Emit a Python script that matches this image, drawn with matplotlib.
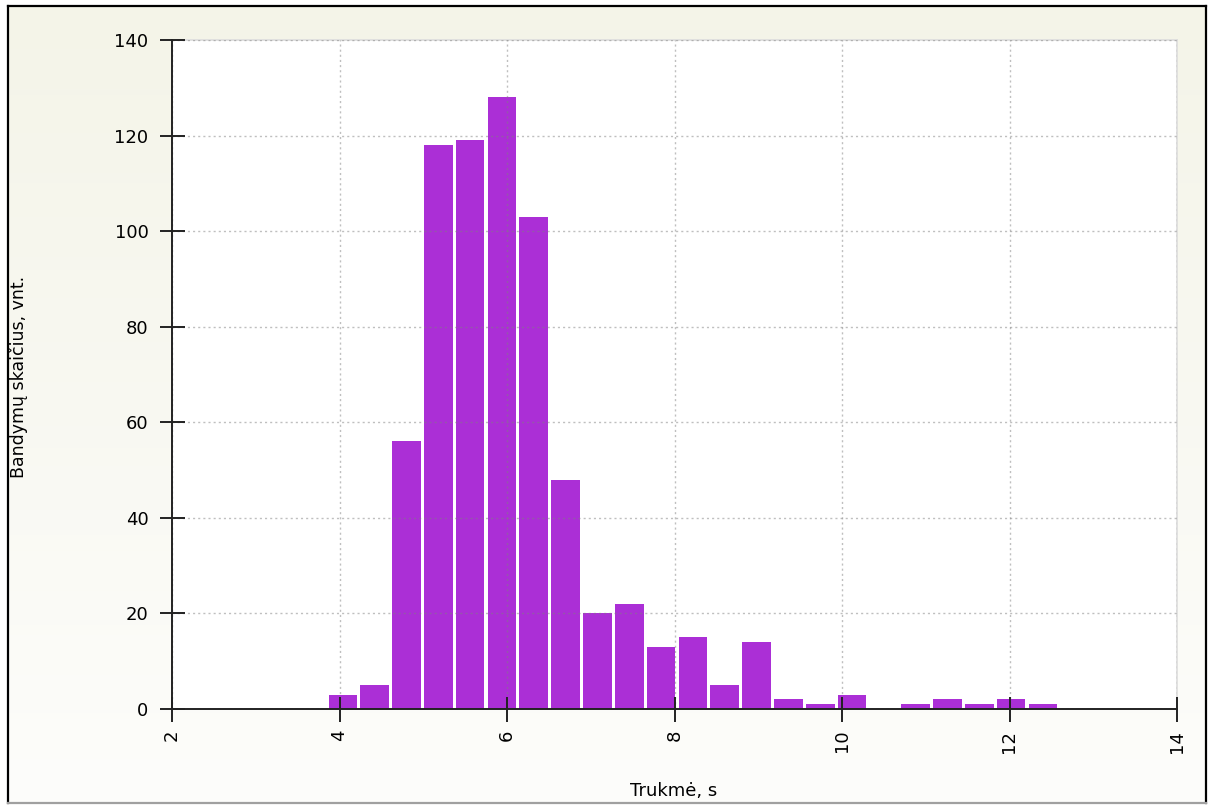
import numpy as np
import matplotlib
matplotlib.use("Agg")
import matplotlib.pyplot as plt
from matplotlib.lines import Line2D

# histogram of trial durations (bin centres, s) and counts
durations = [4.04, 4.42, 4.80, 5.18, 5.56, 5.94, 6.32, 6.70, 7.08, 7.46, 7.84, 8.22,
             8.60, 8.98, 9.36, 9.74, 10.12, 10.50, 10.88, 11.26, 11.64, 12.02, 12.40]
counts = [3, 5, 56, 118, 119, 128, 103, 48, 20, 22, 13, 15,
          5, 14, 2, 1, 3, 0, 1, 2, 1, 2, 1]
bin_width = 0.38

x_ticks = [2, 4, 6, 8, 10, 12, 14]
y_ticks = [0, 20, 40, 60, 80, 100, 120, 140]

W, H = 1213, 805
fig = plt.figure(figsize=(W / 100, H / 100), dpi=100, facecolor="white")

# background gradient inside the frame (beige at top fading to white)
bg = fig.add_axes([8 / W, 1 - 803 / H, (1206 - 8) / W, (803 - 6) / H], zorder=-10)
top = np.array([244, 244, 232]) / 255.0
bot = np.array([253, 253, 251]) / 255.0
t = np.linspace(0, 1, 256)[:, None]
grad = (top[None, :] * (1 - t) + bot[None, :] * t)[:, None, :]
bg.imshow(grad, aspect="auto", extent=[0, 1, 0, 1])
bg.set_axis_off()

# frame around chart
def px(x, y):
    return x / W, 1 - y / H

for (x0, y0), (x1, y1), c in [((8, 6), (1206, 6), "black"),
                              ((8, 6), (8, 803), "black"),
                              ((1206, 6), (1206, 803), "black"),
                              ((8, 803), (1206, 803), "#a0a0a0")]:
    a, b = px(x0, y0)
    cc, d = px(x1, y1)
    fig.add_artist(Line2D([a, cc], [b, d], color=c, lw=1.6, transform=fig.transFigure))

ax = fig.add_axes([172 / W, 1 - 709 / H, (1177 - 172) / W, (709 - 40) / H])
ax.set_facecolor("white")

ax.bar(durations, counts, width=bin_width * 0.9, color="#ab2fd6", zorder=2)

ax.set_xlim(2, 14)
ax.set_ylim(0, 140)
ax.set_xticks(x_ticks)
ax.set_yticks(y_ticks)
ax.set_xticklabels([str(v) for v in x_ticks], rotation=90)
ax.set_axisbelow(False)
ax.grid(True, color="#808080", alpha=0.5, linestyle=(0, (1.5, 2.2)), lw=1.0, zorder=3)

ax.tick_params(axis="both", direction="inout", length=18, width=1.4,
               color="#222222", labelsize=13)
ax.tick_params(axis="x", pad=6)
ax.tick_params(axis="y", pad=8)

for s in ["left", "bottom"]:
    ax.spines[s].set_color("#222222")
    ax.spines[s].set_linewidth(1.4)
    ax.spines[s].set_zorder(4)
for s in ["top", "right"]:
    ax.spines[s].set_color("#dcdcdc")
    ax.spines[s].set_linewidth(1.2)

fig.text(674 / W, 9 / H, "Trukmė, s", ha="center", va="baseline", fontsize=13)
fig.text(19 / W, 1 - 377 / H, "Bandymų skaičius, vnt.", ha="center", va="center",
         rotation=90, fontsize=12.5)

fig.savefig("out.png", dpi=100, facecolor="white")
